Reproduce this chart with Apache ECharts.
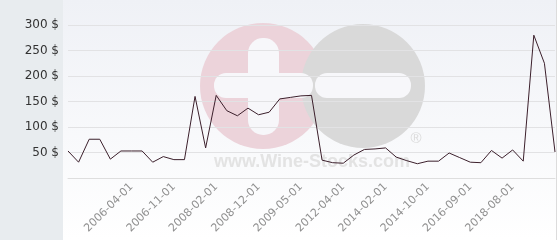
<!DOCTYPE html>
<html>
<head>
<meta charset="utf-8">
<script src="https://cdn.jsdelivr.net/npm/echarts@6/dist/echarts.min.js"></script>
<style>
html,body{margin:0;padding:0;background:#fff;}
#chart{width:560px;height:240px;}
</style>
</head>
<body>
<div id="chart"></div>
<script>
var categories = [
  '2005-06-01','2005-08-01','2005-10-01','2005-12-01','2006-01-01','2006-03-01','2006-04-01','2006-06-01',
  '2006-07-01','2006-09-01','2006-11-01','2007-03-01','2007-07-01','2007-11-01','2008-02-01','2008-05-01',
  '2008-07-01','2008-09-01','2008-12-01','2009-01-01','2009-02-01','2009-03-01','2009-05-01','2010-01-01',
  '2011-03-01','2011-09-01','2012-04-01','2012-09-01','2013-03-01','2013-09-01','2014-02-01','2014-05-01',
  '2014-07-01','2014-09-01','2014-10-01','2015-03-01','2015-09-01','2016-02-01','2016-09-01','2017-02-01',
  '2017-07-01','2017-11-01','2018-08-01','2019-02-01','2019-09-01','2020-03-01','2020-10-01'
];
var prices = [
  53, 31, 76, 76, 37, 53, 53, 53,
  31, 42, 36, 36, 160, 59, 162, 132,
  122, 137, 124, 129, 155, 158, 161, 162,
  35, 30, 29, 45, 56, 57, 59, 41,
  34, 28, 33, 33, 49, 40, 31, 30,
  54, 39, 55, 33, 280, 225, 51
];
var yTicks = [0, 50, 100, 150, 200, 250, 300];

var chart = echarts.init(document.getElementById('chart'), null, {renderer:'canvas'});
chart.setOption({
  animation: false,
  backgroundColor: '#ffffff',
  graphic: {
    zlevel: -1,
    z: 0,
    elements: [
      {type:'rect', zlevel:-1, z:0, shape:{x:0,y:0,width:63,height:240}, style:{fill:'#e8ecef'}},
      {type:'rect', zlevel:-1, z:0, shape:{x:63,y:0,width:493,height:240},
        style:{fill:new echarts.graphic.LinearGradient(0,0,0,1,[{offset:0,color:'#eff1f6'},{offset:1,color:'#ffffff'}])}},
      {type:'line', zlevel:-1, z:1, shape:{x1:556.5,y1:0,x2:556.5,y2:240}, style:{stroke:'#dcdcdc',lineWidth:1}},
      {type:'circle', zlevel:-1, z:2, shape:{cx:263,cy:86,r:63}, style:{fill:'#ecd3da'}},
      {type:'circle', zlevel:-1, z:3, shape:{cx:363,cy:86,r:62}, style:{fill:'#d9d9d9'}},
      {type:'rect', zlevel:-1, z:4, shape:{x:248,y:38,width:31,height:97,r:15}, style:{fill:'#f7f7fa'}},
      {type:'rect', zlevel:-1, z:4, shape:{x:214,y:73,width:99,height:25,r:12}, style:{fill:'#f7f7fa'}},
      {type:'rect', zlevel:-1, z:4, shape:{x:315,y:73,width:96,height:25,r:12}, style:{fill:'#f7f7fa'}},
      {type:'text', zlevel:-1, z:4, style:{x:312,y:162,text:'www.Wine-Stocks.com',fill:'#e3e3e3',
        font:'bold 18px "Liberation Sans", Arial, sans-serif',textAlign:'center',textVerticalAlign:'middle'}},
      {type:'text', zlevel:-1, z:4, style:{x:416,y:139,text:'®',fill:'#dadada',
        font:'15px "Liberation Sans", Arial, sans-serif',textAlign:'center',textVerticalAlign:'middle'}}
    ]
  },
  grid: {left:68, right:5, top:25, bottom:62, containLabel:false},
  xAxis: {
    type:'category',
    data: categories,
    boundaryGap:false,
    axisLine:{show:true, lineStyle:{color:'#dedede'}},
    axisTick:{show:false},
    splitLine:{show:false},
    axisLabel:{
      rotate:45, margin:7, fontSize:11, color:'#909090',
      fontFamily:'"DejaVu Sans", Verdana, sans-serif',
      interval:function(idx){ return idx>=6 && idx<=42 && (idx-2)%4===0; }
    }
  },
  yAxis: {
    type:'value', min:yTicks[0], max:yTicks[yTicks.length-1], interval:50,
    axisLine:{show:false}, axisTick:{show:false},
    splitLine:{lineStyle:{color:'#e2e2e4', width:1}},
    axisLabel:{
      margin:9, fontSize:12, color:'#333',
      fontFamily:'"DejaVu Sans", Verdana, sans-serif',
      formatter:function(v){ return v===0 ? '' : v + ' $'; }
    }
  },
  series: [{
    type:'line', data: prices, showSymbol:false, symbol:'none',
    lineStyle:{color:'#3b1f2b', width:1}
  }]
});
</script>
</body>
</html>
